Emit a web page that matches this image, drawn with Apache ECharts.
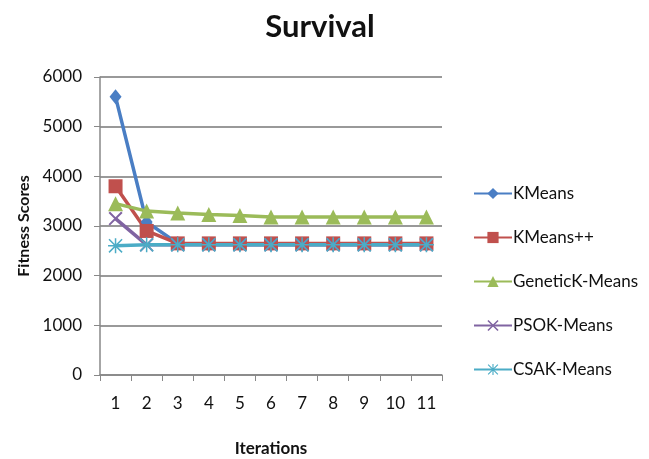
<!DOCTYPE html>
<html>
<head>
<meta charset="utf-8">
<script src="https://cdn.jsdelivr.net/npm/echarts@6/dist/echarts.min.js"></script>
<style>
html,body{margin:0;padding:0;background:#fff;}
#chart{width:649px;height:459px;}
</style>
</head>
<body>
<div id="chart"></div>
<script>
// Iteration numbers along the x axis
const iterations = ['1','2','3','4','5','6','7','8','9','10','11'];

// Fitness score per iteration for each algorithm
const kmeans      = [5600, 3080, 2650, 2630, 2630, 2630, 2630, 2630, 2630, 2630, 2630];
const kmeansPP    = [3800, 2900, 2650, 2650, 2650, 2650, 2650, 2650, 2650, 2650, 2650];
const geneticKM   = [3450, 3300, 3260, 3230, 3210, 3180, 3180, 3180, 3180, 3180, 3180];
const psoKM       = [3150, 2620, 2620, 2620, 2620, 2620, 2620, 2620, 2620, 2620, 2620];
const csaKM       = [2600, 2620, 2620, 2620, 2620, 2620, 2620, 2620, 2620, 2620, 2620];

const seriesNames = ['KMeans', 'KMeans++', 'GeneticK-Means', 'PSOK-Means', 'CSAK-Means'];

// Thin X-shaped marker and eight-armed asterisk marker
const crossPath = 'path://M0,1 L1,0 L10,9 L9,10 Z M9,0 L10,1 L1,10 L0,9 Z';
const starPath = 'path://M4.5,0 L5.5,0 L5.5,10 L4.5,10 Z M0,4.5 L10,4.5 L10,5.5 L0,5.5 Z M1,0.3 L9.7,9 L9,9.7 L0.3,1 Z M9,0.3 L9.7,1 L1,9.7 L0.3,9 Z';

const font = 'Lato, "Open Sans", sans-serif';

function lineSeries(name, data, color, symbol, size) {
  return {
    name, type: 'line', data,
    symbol, symbolSize: size,
    lineStyle: { color, width: 3.5 },
    itemStyle: { color, borderWidth: 0 },
    emphasis: { disabled: true },
    animation: false
  };
}

const chart = echarts.init(document.getElementById('chart'));
chart.setOption({
  backgroundColor: '#fff',
  title: {
    text: 'Survival',
    left: 315, top: 6, textAlign: 'center',
    textStyle: { fontFamily: font, fontWeight: 'bold', fontSize: 31, color: '#111' }
  },
  grid: { left: 100, right: 207, top: 77, bottom: 84, containLabel: false, outerBoundsMode: 'none' },
  legend: {
    orient: 'vertical',
    left: 468, top: 180,
    itemWidth: 38, itemHeight: 14, itemGap: 27,
    data: seriesNames,
    textStyle: { fontFamily: font, fontSize: 17, color: '#111', padding: [0, 0, 0, -4] }
  },
  xAxis: {
    type: 'category',
    data: iterations,
    boundaryGap: true,
    name: 'Iterations', nameLocation: 'middle', nameGap: 65,
    nameTextStyle: { fontFamily: font, fontWeight: 'bold', fontSize: 17, color: '#111' },
    axisLine: { lineStyle: { color: '#888', width: 1.5 } },
    axisTick: { show: true, length: 6, lineStyle: { color: '#888' } },
    axisLabel: { fontFamily: font, fontSize: 17, color: '#111', margin: 20 },
    splitLine: { show: false }
  },
  yAxis: {
    type: 'value',
    min: 0, max: 6000, interval: 1000,
    name: 'Fitness Scores', nameLocation: 'middle', nameGap: 64, nameRotate: 90,
    nameTextStyle: { fontFamily: font, fontWeight: 'bold', fontSize: 16, color: '#111' },
    axisLine: { show: true, lineStyle: { color: '#888', width: 1.5 } },
    axisTick: { show: true, length: 6, inside: false, lineStyle: { color: '#888' } },
    axisLabel: { fontFamily: font, fontSize: 17, color: '#111', margin: 18, formatter: v => String(v) },
    splitLine: { show: true, lineStyle: { color: '#777', width: 1.5 } }
  },
  series: [
    lineSeries(seriesNames[0], kmeans, '#4A7EC4', 'diamond', [12, 15]),
    lineSeries(seriesNames[1], kmeansPP, '#C0504D', 'rect', 14),
    lineSeries(seriesNames[2], geneticKM, '#9BBB59', 'triangle', 15),
    lineSeries(seriesNames[3], psoKM, '#8064A2', crossPath, 14),
    lineSeries(seriesNames[4], csaKM, '#4BACC6', starPath, 15)
  ]
});
</script>
</body>
</html>
